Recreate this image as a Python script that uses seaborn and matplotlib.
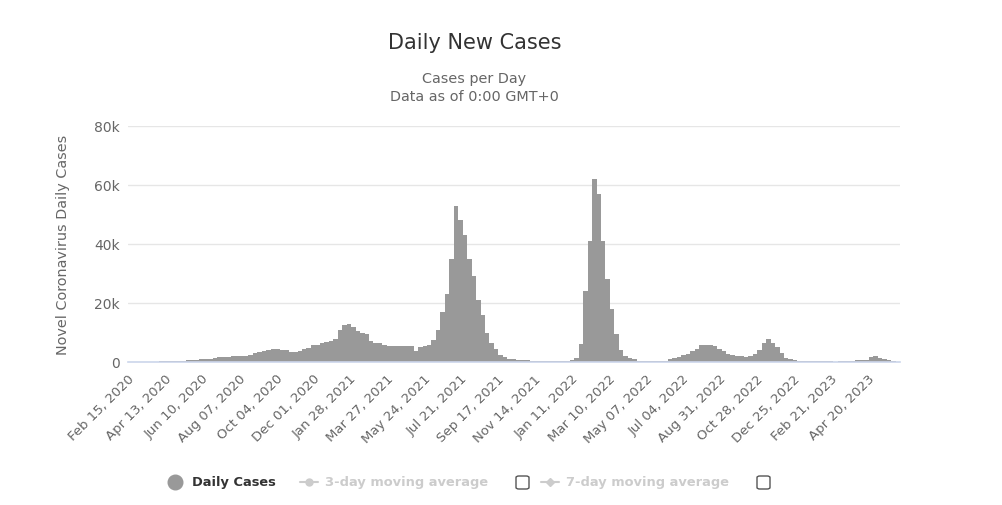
import numpy as np
import pandas as pd
import matplotlib
matplotlib.use("Agg")
import matplotlib.pyplot as plt
import seaborn as sns
from matplotlib.lines import Line2D
from matplotlib.patches import FancyBboxPatch

# 週ごとの1日あたり新規感染者数（2020-02-15 土曜日から7日刻み）
start_date = "2020-02-15"
n_weeks = 173
cases = [
    0, 0, 0, 0, 60, 100, 130, 250, 320, 320,
    350, 380, 500, 600, 580, 650, 950, 1050, 1150, 1350,
    1700, 1600, 1700, 1900, 2000, 2100, 2200, 2500, 3100, 3400,
    3700, 4100, 4300, 4300, 4200, 4200, 3500, 3500, 3800, 4400,
    4900, 5800, 5900, 6500, 6900, 7000, 7800, 11000, 12500, 13000,
    12000, 10500, 10000, 9500, 7200, 6600, 6400, 5600, 5500, 5400,
    5500, 5400, 5300, 5300, 3600, 5000, 5500, 5800, 7500, 11000,
    17000, 23000, 35000, 53000, 48000, 43000, 35000, 29000, 21000, 16000,
    10000, 6500, 4300, 2500, 1800, 1100, 900, 750, 650, 600,
    450, 400, 400, 330, 230, 190, 200, 200, 350, 700,
    1500, 6000, 24000, 41000, 62000, 57000, 41000, 28000, 18000, 9500,
    4000, 2200, 1500, 850, 500, 250, 300, 250, 270, 320,
    450, 1100, 1500, 1800, 2400, 2800, 3800, 4500, 5600, 5700,
    5600, 5400, 4500, 3600, 2600, 2300, 2000, 1900, 1800, 2000,
    2600, 4000, 6500, 7700, 6300, 5000, 3200, 1500, 1000, 600,
    400, 300, 250, 220, 200, 200, 180, 170, 160, 180,
    220, 280, 450, 650, 800, 750, 1600, 2200, 1400, 900,
    600, 300, 150,
]

tick_labels = [
    "Feb 15, 2020", "Apr 13, 2020", "Jun 10, 2020", "Aug 07, 2020",
    "Oct 04, 2020", "Dec 01, 2020", "Jan 28, 2021", "Mar 27, 2021",
    "May 24, 2021", "Jul 21, 2021", "Sep 17, 2021", "Nov 14, 2021",
    "Jan 11, 2022", "Mar 10, 2022", "May 07, 2022", "Jul 04, 2022",
    "Aug 31, 2022", "Oct 28, 2022", "Dec 25, 2022", "Feb 21, 2023",
    "Apr 20, 2023",
]
y_ticks = [0, 20000, 40000, 60000, 80000]
y_labels = ["0", "20k", "40k", "60k", "80k"]

t0 = pd.Timestamp(start_date)
week_start = pd.date_range(start_date, periods=n_weeks, freq="7D")
df = pd.DataFrame({
    "day": (week_start - t0).days,
    "cases": cases,
})
tick_pos = (pd.to_datetime(tick_labels, format="%b %d, %Y") - t0).days

sns.set_style("white")
plt.rcParams["font.family"] = ["DejaVu Sans"]

fig = plt.figure(figsize=(10.02, 5.06), dpi=100)
ax = fig.add_axes([128 / 1002, 1 - 363 / 506, 772 / 1002, 236 / 506])

sns.histplot(
    data=df, x="day", weights="cases",
    binwidth=7, binrange=(0, 7 * n_weeks),
    color="#999999", alpha=1, linewidth=0,
    ax=ax,
)

ax.set_xlim(0, 1211)
ax.set_ylim(0, 80000)
ax.set_yticks(y_ticks)
ax.set_yticklabels(y_labels)
ax.set_xticks(tick_pos)
ax.set_xticklabels(tick_labels, rotation=45, ha="right", va="top",
                   rotation_mode="anchor")
ax.tick_params(axis="both", length=0, colors="#666666")
ax.tick_params(axis="y", pad=6, labelsize=10)
ax.tick_params(axis="x", pad=7, labelsize=9.5)
ax.set_xlabel("")
ax.set_ylabel("")
ax.grid(axis="y", color="#e6e6e6", linewidth=1)
ax.set_axisbelow(True)
for side in ["top", "right", "left"]:
    ax.spines[side].set_visible(False)
ax.spines["bottom"].set_color("#ccd6eb")
ax.spines["bottom"].set_linewidth(1.2)

# タイトル・サブタイトル
fig.text(475 / 1002, 1 - 43 / 506, "Daily New Cases", ha="center", va="center",
         fontsize=15, color="#333333")
fig.text(474 / 1002, 1 - 79 / 506, "Cases per Day", ha="center", va="center",
         fontsize=10.4, color="#666666")
fig.text(474 / 1002, 1 - 97 / 506, "Data as of 0:00 GMT+0", ha="center", va="center",
         fontsize=10.4, color="#666666")
fig.text(63 / 1002, 1 - 245 / 506, "Novel Coronavirus Daily Cases", rotation=90,
         ha="center", va="center", fontsize=10.4, color="#666666")

# 凡例（手描き）
ly = 1 - 483 / 506
fig.add_artist(Line2D([175 / 1002], [ly], marker="o", markersize=10.5,
                      color="#999999", transform=fig.transFigure))
fig.text(192 / 1002, ly, "Daily Cases", ha="left", va="center",
         fontsize=9.4, fontweight="bold", color="#333333")

for x0, label, mk in [(300, "3-day moving average", "o"), (541, "7-day moving average", "D")]:
    fig.add_artist(Line2D([x0 / 1002, (x0 + 18) / 1002], [ly, ly], color="#cccccc",
                          linewidth=1.5, transform=fig.transFigure))
    fig.add_artist(Line2D([(x0 + 9) / 1002], [ly], marker=mk, markersize=5 if mk == "o" else 4,
                          color="#cccccc", transform=fig.transFigure))
    fig.text((x0 + 25) / 1002, ly, label, ha="left", va="center",
             fontsize=9.4, fontweight="bold", color="#cccccc")

for bx in [516, 757]:
    fig.add_artist(FancyBboxPatch((bx / 1002, 1 - 490 / 506), 13 / 1002, 13 / 506,
                                  boxstyle="round,pad=0,rounding_size=0.003",
                                  facecolor="white", edgecolor="#555555", linewidth=1,
                                  transform=fig.transFigure))

fig.savefig("out.png", dpi=100, facecolor="white")
